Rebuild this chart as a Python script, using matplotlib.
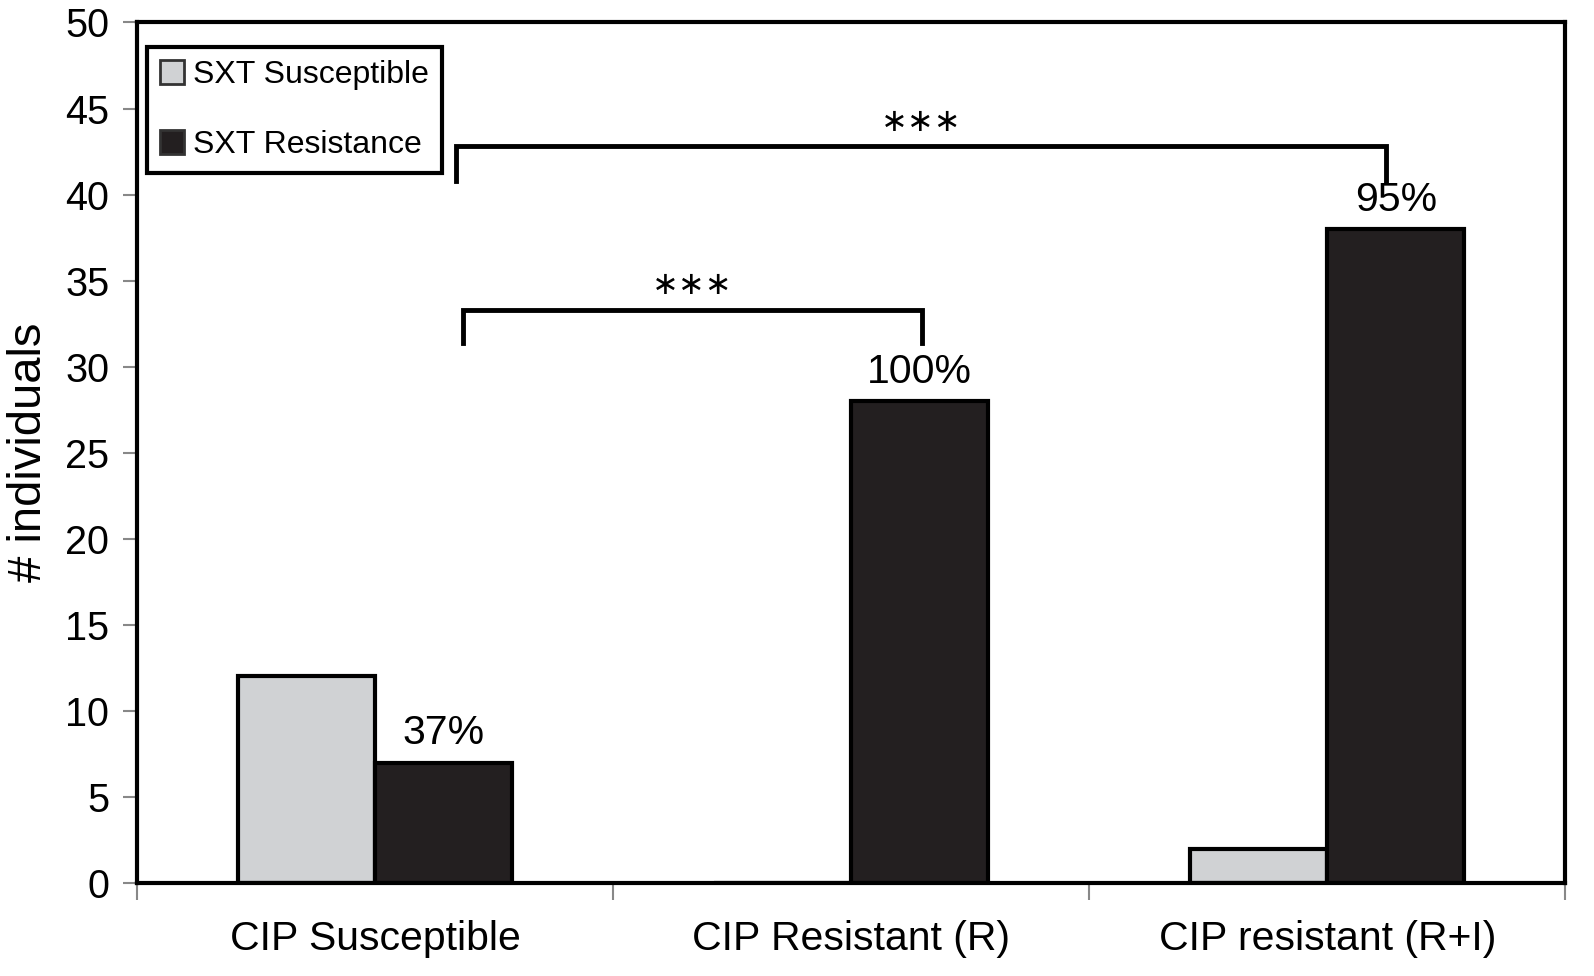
import matplotlib.pyplot as plt
from matplotlib.patches import Patch

plt.rcParams['font.family'] = ['Liberation Sans', 'DejaVu Sans']

categories = ["CIP Susceptible", "CIP Resistant (R)", "CIP resistant (R+I)"]
susceptible = [12, 0, 2]
resistance = [7, 28, 38]
pct_labels = ["37%", "100%", "95%"]

# significance brackets: (x left, x right, y of bar, y of legs)
brackets = [(0.185, 1.149, 33.3, 31.4), (0.170, 2.124, 42.8, 40.8)]
stars = ["\u2217\u2217\u2217", "\u2217\u2217\u2217"]

LIGHT = "#d0d2d4"
DARK = "#231f20"
W = 0.288

fig = plt.figure(figsize=(15.94, 9.76), dpi=100)
ax = fig.add_axes([0.086, 0.0953, 0.896, 0.8817])

x = range(len(categories))
ax.bar([i - W / 2 for i in x], susceptible, W, color=LIGHT, edgecolor="black", linewidth=3)
ax.bar([i + W / 2 for i in x], resistance, W, color=DARK, edgecolor="black", linewidth=3)

for i, (v, lab) in enumerate(zip(resistance, pct_labels)):
    ax.text(i + W / 2, v + 0.6, lab, ha="center", va="bottom", fontsize=29.5)

for (x0, x1, yb, yl), s in zip(brackets, stars):
    ax.plot([x0, x0, x1, x1], [yl, yb, yb, yl], color="black", lw=3.5,
            solid_joinstyle="miter", clip_on=False, zorder=5)
    ax.text((x0 + x1) / 2, yb + 1.4, s, ha="center", va="center", fontsize=23,
            family=["DejaVu Sans"])

ax.set_xlim(-0.5, 2.5)
ax.set_ylim(0, 50)
ax.set_yticks(range(0, 51, 5))
ax.set_xticks([-0.5, 0.5, 1.5, 2.5])
ax.set_xticklabels([])
ax.set_xticks(list(x), minor=True)
ax.set_xticklabels(categories, minor=True, fontsize=29.5)
ax.tick_params(axis="x", which="minor", length=0, pad=27)
ax.tick_params(axis="x", which="major", length=12, color="#888888", width=1.5)
ax.tick_params(axis="y", length=10, color="#888888", width=1.5, labelsize=28.5, pad=10)
ax.set_ylabel("# individuals", fontsize=34, labelpad=10)

for sp in ax.spines.values():
    sp.set_linewidth(3)
    sp.set_color("black")

handles = [Patch(facecolor=LIGHT, edgecolor="#333333", linewidth=2),
           Patch(facecolor=DARK, edgecolor="#333333", linewidth=2)]
leg = ax.legend(handles, ["SXT Susceptible", "SXT Resistance"], loc="upper left",
                bbox_to_anchor=(0.007, 0.971), borderaxespad=0, fontsize=23,
                handlelength=0.75, handleheight=0.75, handletextpad=0.3,
                labelspacing=1.25, borderpad=0.4, fancybox=False, framealpha=1)
leg.get_frame().set_edgecolor("black")
leg.get_frame().set_linewidth(3)

fig.savefig("out.png", dpi=100)
